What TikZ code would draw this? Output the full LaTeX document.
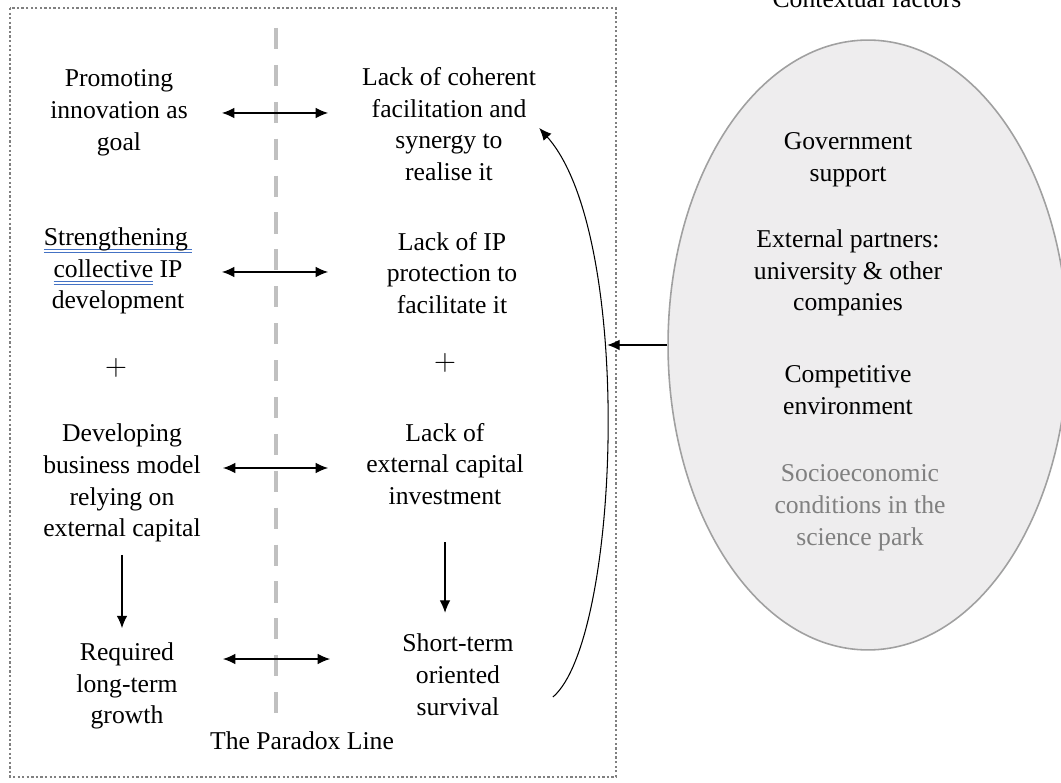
\documentclass[tikz,border=0pt]{standalone}
\usepackage{fontspec}
\setmainfont{Liberation Serif}
\usetikzlibrary{arrows.meta, positioning, shapes.geometric}
\definecolor{boxgray}{RGB}{128,128,128}
\definecolor{linegray}{RGB}{192,192,192}
\definecolor{ovalfill}{RGB}{238,237,238}
\definecolor{ovaldraw}{RGB}{160,160,160}
\definecolor{softtext}{RGB}{128,128,128}
\definecolor{markblue}{RGB}{68,114,196}
% double blue marker under words
\newlength{\gramwd}
\newcommand{\gramline}[1]{\settowidth{\gramwd}{#1}\rlap{\color{markblue}\rule[-2.6pt]{\gramwd}{0.45pt}}\rlap{\color{markblue}\rule[-4.2pt]{\gramwd}{0.45pt}}#1}

\begin{document}
\begin{tikzpicture}[x=0.02cm, y=-0.02cm,
        txt/.style={align=center, inner sep=0pt, font=\fontsize{14.6}{18.1}\selectfont},
        plus/.style={inner sep=0pt, font=\fontsize{18}{18}\selectfont},
        arr/.style={-{Latex[length=7pt,width=6pt]}, semithick},
        dbl/.style={{Latex[length=7pt,width=6pt]}-{Latex[length=7pt,width=6pt]}, semithick}
    ]
    \useasboundingbox (0,0) rectangle (1061,783);

    % frame and paradox line
    \draw[boxgray, line width=1.6pt, dash pattern=on 1.3pt off 1.3pt] (10,8) rectangle (616,777);
    \draw[linegray, line width=2.6pt, dash pattern=on 12pt off 9pt] (276,28) -- (276,722);
    \node[txt] (paradox) at (302,741) {The Paradox Line};

    % left side
    \node[txt] (innov) at (119,113) {Promoting\\innovation as\\goal};
    \node[txt] (collip) at (118,271) {\gramline{Strengthening\,}\\\gramline{collective} IP\\development};
    \node[plus] (plusl) at (116,368) {$+$};
    \node[txt] (bizmodel) at (122,483) {Developing\\business model\\relying on\\external capital};
    \node[txt] (growth) at (127,686) {Required\\long-term\\growth};

    % right side
    \node[txt] (lackfac) at (449,124) {Lack of coherent\\facilitation and\\synergy to\\realise it};
    \node[txt] (lackip) at (452,273) {Lack of IP\\protection to\\facilitate it};
    \node[plus] (plusr) at (445,363) {$+$};
    \node[txt] (lackcap) at (445,464) {Lack of\\external capital\\investment};
    \node[txt] (survival) at (458,675) {Short-term\\oriented\\survival};

    % contextual factors
    \node[txt, anchor=base] (ctxtitle) at (867,8) {Contextual factors};
    \node[ellipse, draw=ovaldraw, fill=ovalfill, line width=0.9pt, minimum width=8cm, minimum height=12.2cm] (oval) at (868,345) {};
    \node[txt] (gov) at (848,160) {Government\\support};
    \node[txt] (partners) at (848,273) {External partners:\\university \& other\\companies};
    \node[txt] (compet) at (848,390) {Competitive\\environment};
    \node[txt, text=softtext] (socio) at (860,508) {Socioeconomic\\conditions in the\\science park};

    % arrow ends across the line
    \coordinate (r1l) at (222,113); \coordinate (r1r) at (328,113);
    \coordinate (r2l) at (222,272); \coordinate (r2r) at (328,272);
    \coordinate (r3l) at (223,468); \coordinate (r3r) at (328,468);
    \coordinate (r4l) at (223,659); \coordinate (r4r) at (330,659);
    \draw[dbl] (r1l) -- (r1r);
    \draw[dbl] (r2l) -- (r2r);
    \draw[dbl] (r3l) -- (r3r);
    \draw[dbl] (r4l) -- (r4r);

    \draw[arr, shorten <=7pt, shorten >=8pt] (bizmodel.south) -- (bizmodel.south |- growth.north);
    \draw[arr, shorten <=21pt, shorten >=12pt] (lackcap.south) -- (lackcap.south |- survival.north);

    \draw[arr] ([shift={(39,22)}]survival.east) .. controls (620,640) and (635,235) .. ([shift={(3,4)}]lackfac.east);
    \draw[arr] (oval.west) -- ++(-60,0);
\end{tikzpicture}
\end{document}
